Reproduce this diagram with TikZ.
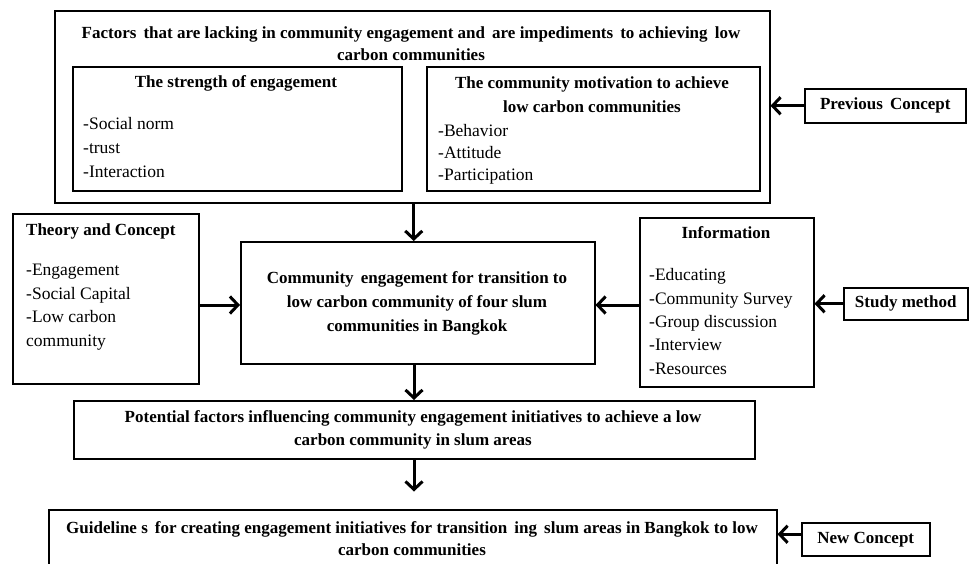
\documentclass[tikz,border=0pt]{standalone}
\usepackage{fontspec}
\setmainfont{Liberation Serif}
\usetikzlibrary{arrows.meta,calc}
\begin{document}
\begin{tikzpicture}[x=1pt,y=-1pt,
  box/.style={draw,line width=1.5pt,inner sep=0pt,anchor=north west},
  ttl/.style={font=\fontsize{17}{22}\selectfont\bfseries,align=center,inner sep=0pt},
  itm/.style={font=\fontsize{17.5}{24}\selectfont,align=left,anchor=west,inner sep=0pt},
  arr/.style={line width=3pt,-{Straight Barb[length=8pt,width=17pt]}}]
\clip (0,0) rectangle (969,563);
% boxes
\node[box,minimum width=715pt,minimum height=192pt] (top) at (54,10) {};
\node[box,minimum width=329pt,minimum height=124pt] (inl) at (72,66) {};
\node[box,minimum width=333pt,minimum height=124pt] (inr) at (426,66) {};
\node[box,minimum width=161pt,minimum height=34pt] (prev) at (804,88) {};
\node[box,minimum width=186pt,minimum height=170pt] (theory) at (12,213) {};
\node[box,minimum width=354pt,minimum height=122pt] (central) at (240,241) {};
\node[box,minimum width=174pt,minimum height=169pt] (info) at (639,217) {};
\node[box,minimum width=124pt,minimum height=32pt] (study) at (843,287) {};
\node[box,minimum width=681pt,minimum height=58pt] (pot) at (73,400) {};
\node[box,minimum width=728pt,minimum height=70pt] (guide) at (48,509) {};
\node[box,minimum width=128pt,minimum height=33pt] (newc) at (801,522) {};
% texts
\node[ttl] (toptxt) at (411,44) {Factors\, that are lacking in community engagement and\, are impediments\, to achieving\, low\\carbon communities};
\node[ttl] (inltxt) at (236,83) {The strength of engagement};
\node[itm] (inlitems) at (83,148) {-Social norm\\-trust\\-Interaction};
\node[ttl,font=\fontsize{17}{24}\selectfont\bfseries] (inrtxt) at (592,95) {The community motivation to achieve\\low carbon communities};
\node[itm,font=\fontsize{17.5}{22}\selectfont] (inritems) at (438,154) {-Behavior\\-Attitude\\-Participation};
\node[ttl] (prevtxt) at (prev.center) {Previous\, Concept};
\node[ttl,anchor=west] (thtxt) at (26,231) {Theory and Concept};
\node[itm,font=\fontsize{17.5}{23.5}\selectfont] (thitems) at (26,307) {-Engagement\\-Social Capital\\-Low carbon\\community};
\node[ttl,font=\fontsize{17}{24}\selectfont\bfseries] (centtxt) at (417,303) {Community\, engagement for transition to\\low carbon community of four slum\\communities in Bangkok};
\node[ttl] (infotxt) at (726,233) {Information};
\node[itm,font=\fontsize{17.5}{23.3}\selectfont] (infoitems) at (649,321.5) {-Educating\\-Community Survey\\-Group discussion\\-Interview\\-Resources};
\node[ttl] (studytxt) at (study.center) {Study method};
\node[ttl,font=\fontsize{17}{23}\selectfont\bfseries] (pottxt) at (413,430) {Potential factors influencing community engagement initiatives to achieve a low\\carbon community in slum areas};
\node[ttl] (guidetxt) at (412,539) {Guideline s\, for creating engagement initiatives for transition\, ing\, slum areas in Bangkok to low\\carbon communities};
\node[ttl] (newtxt) at (newc.center) {New Concept};
% connectors
\draw[arr] (prev.west) -- (top.east |- prev.west);
\draw[arr] ($(top.south)+(1.5,0)$) -- ($(top.south |- central.north)+(1.5,0)$);
\draw[arr] (theory.east |- 0,305) -- (central.west |- 0,305);
\draw[arr] (info.west |- 0,305) -- (central.east |- 0,305);
\draw[arr] (study.west) -- (info.east |- study.west);
\draw[arr] (central.south -| 414,0) -- (pot.north -| 414,0);
\coordinate (potend) at ($(pot.south -| 414,0)+(0,32)$);
\draw[arr] (pot.south -| 414,0) -- (potend);
\draw[arr] ($(newc.west)+(0,-5)$) -- ($(guide.east |- newc.west)+(0,-5)$);
\end{tikzpicture}
\end{document}
